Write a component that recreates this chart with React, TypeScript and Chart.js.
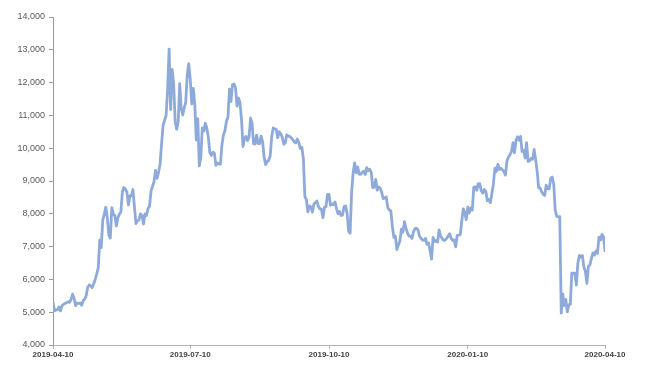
import React, { useEffect, useRef } from "react";
import { Chart, registerables } from "chart.js";

Chart.register(...registerables);

// Daily values from 2019-04-10 to 2020-04-10
const apr2019 = [5300, 5040, 5070, 5070, 5160, 5040, 5200, 5240, 5270, 5290, 5320, 5300, 5390, 5550, 5420, 5200, 5280, 5270, 5280, 5210, 5350];
const may2019 = [5400, 5500, 5760, 5830, 5800, 5750, 5870, 6000, 6170, 6360, 7200, 6970, 7810, 7990, 8200, 7880, 7360, 7260, 8190, 7990, 7950, 7630, 7880, 7990, 8050, 8670, 8800, 8750, 8660, 8270, 8550];
const jun2019 = [8550, 8740, 8210, 7700, 7790, 7810, 8000, 7950, 7690, 8000, 7950, 8160, 8230, 8690, 8840, 8980, 9320, 9080, 9270, 9520, 10140, 10700, 10850, 11010, 11780, 13020, 11180, 12400, 11960, 10820];
const jul2019 = [10580, 10800, 11970, 11220, 11010, 11230, 11400, 12230, 12580, 12100, 11350, 11820, 11350, 10250, 10900, 9460, 9720, 10620, 10520, 10760, 10610, 10330, 9860, 9780, 9880, 9850, 9480, 9550, 9520, 9510, 10090];
const aug2019 = [10400, 10530, 10820, 10950, 11800, 11430, 11940, 11960, 11850, 11280, 11530, 11380, 10870, 10050, 10300, 10360, 10230, 10340, 10920, 10760, 10130, 10130, 10400, 10140, 10140, 10370, 10190, 9720, 9500, 9590, 9630];
const sep2019 = [9760, 10350, 10620, 10590, 10580, 10320, 10500, 10440, 10340, 10120, 10160, 10410, 10360, 10360, 10310, 10260, 10190, 10160, 10280, 10170, 9990, 10030, 9690, 8530, 8430, 8060, 8240, 8210, 8050, 8300];
const oct2019 = [8340, 8390, 8220, 8150, 8140, 7880, 8200, 8210, 8590, 8590, 8260, 8300, 8280, 8360, 8160, 8000, 8070, 7950, 7960, 8220, 8240, 8020, 7470, 7410, 8660, 9250, 9550, 9250, 9430, 9210, 9200];
const nov2019 = [9260, 9300, 9200, 9410, 9310, 9360, 9270, 8800, 8810, 9050, 8720, 8820, 8770, 8640, 8460, 8490, 8510, 8180, 8120, 8080, 7620, 7280, 7320, 6910, 7050, 7170, 7530, 7440, 7760, 7570];
const dec2019 = [7420, 7320, 7320, 7250, 7450, 7550, 7560, 7510, 7320, 7250, 7200, 7190, 7250, 7070, 7110, 6880, 6620, 7280, 7150, 7190, 7140, 7510, 7320, 7250, 7190, 7200, 7250, 7320, 7390, 7250, 7190];
const jan2020 = [7200, 6990, 7340, 7350, 7360, 7760, 8150, 8040, 7820, 8200, 8020, 8180, 8110, 8810, 8820, 8720, 8920, 8910, 8700, 8630, 8740, 8680, 8400, 8440, 8340, 8610, 8910, 9390, 9290, 9510, 9350];
const feb2020 = [9390, 9340, 9290, 9180, 9610, 9730, 9800, 9900, 10170, 9860, 10240, 10350, 10240, 10360, 9900, 9930, 9700, 10170, 9600, 9610, 9690, 9660, 9960, 9660, 9310, 8790, 8790, 8670, 8600];
const mar2020 = [8560, 8870, 8760, 8760, 9080, 9120, 8910, 8110, 7920, 7910, 7910, 4970, 5560, 5200, 5390, 5010, 5230, 5240, 6190, 6190, 6190, 5830, 6490, 6730, 6680, 6730, 6370, 6250, 5880, 6400, 6440];
const apr2020 = [6640, 6810, 6740, 6870, 6790, 7290, 7200, 7370, 7300, 6870];

const startDate = [2019, 3, 10]; // 2019-04-10
const tickDays = [0, 91, 183, 275, 366]; // 2019-04-10, 2019-07-10, 2019-10-10, 2020-01-10, 2020-04-10

const values = [
  ...apr2019, ...may2019, ...jun2019, ...jul2019, ...aug2019, ...sep2019,
  ...oct2019, ...nov2019, ...dec2019, ...jan2020, ...feb2020, ...mar2020, ...apr2020,
];

function dayLabel(i: number): string {
  const d = new Date(Date.UTC(startDate[0], startDate[1], startDate[2] + i));
  return d.toISOString().slice(0, 10);
}

export default function App() {
  const ref = useRef<HTMLCanvasElement | null>(null);

  useEffect(() => {
    if (!ref.current) return;
    const chart = new Chart(ref.current, {
      type: "line",
      data: {
        datasets: [
          {
            data: values.map((v, i) => ({ x: i, y: v })),
            borderColor: "#8eaadb",
            borderWidth: 2.8,
            borderJoinStyle: "round",
            borderCapStyle: "round",
            pointRadius: 0,
            tension: 0,
            fill: false,
          },
        ],
      },
      options: {
        responsive: false,
        animation: false,
        layout: { padding: { left: 0, top: 17, right: 47, bottom: 0 } },
        plugins: {
          legend: { display: false },
          tooltip: { enabled: false },
          title: { display: false },
        },
        scales: {
          x: {
            type: "linear",
            min: 0,
            max: 366,
            afterBuildTicks: (scale: any) => {
              scale.ticks = tickDays.map((v) => ({ value: v }));
            },
            afterFit: (scale: any) => {
              scale.height = 31;
            },
            grid: {
              drawOnChartArea: false,
              drawTicks: true,
              tickLength: 4,
              color: "#b4b4b4",
            },
            border: { display: true, color: "#b4b4b4", width: 1 },
            ticks: {
              autoSkip: false,
              maxRotation: 0,
              padding: 1,
              color: "#404040",
              font: { family: "'Liberation Sans', Arial, sans-serif", size: 8, weight: "bold" },
              callback: (v: any) => dayLabel(Number(v)),
            },
          },
          y: {
            min: 4000,
            max: 14000,
            afterFit: (scale: any) => {
              scale.width = 53;
            },
            grid: {
              drawOnChartArea: false,
              drawTicks: true,
              tickLength: 4,
              color: "#9a9a9a",
            },
            border: { display: true, color: "#9a9a9a", width: 1 },
            ticks: {
              stepSize: 1000,
              padding: 4,
              color: "#595959",
              font: { family: "'Liberation Sans', Arial, sans-serif", size: 9 },
              callback: (v: any) => Number(v).toLocaleString("en-US"),
            },
          },
        },
      },
    });
    return () => chart.destroy();
  }, []);

  return (
    <div style={{ position: "absolute", left: 0, top: 0, width: 652, height: 376, background: "#fff" }}>
      <canvas ref={ref} width={652} height={376} style={{ display: "block" }} />
    </div>
  );
}
